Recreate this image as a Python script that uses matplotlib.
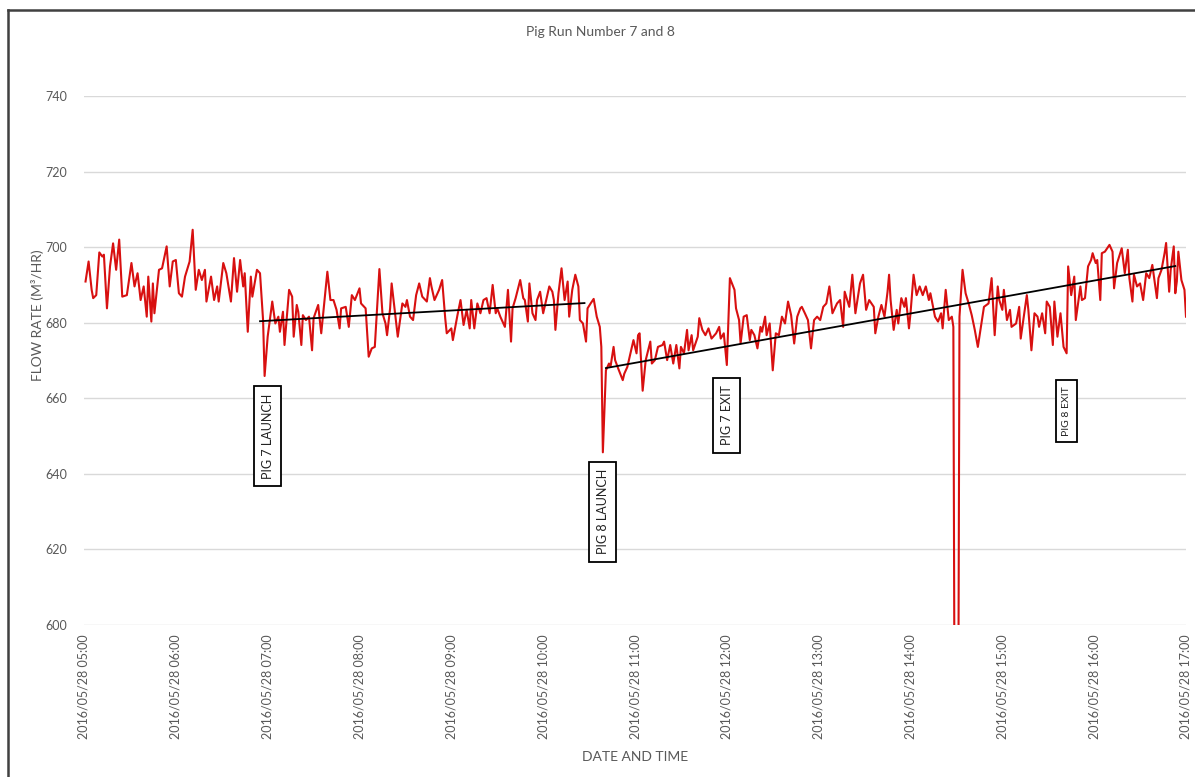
import numpy as np
import pandas as pd
import matplotlib
matplotlib.use("Agg")
import matplotlib.pyplot as plt
import matplotlib.dates as mdates
from matplotlib.lines import Line2D

plt.rcParams['font.family'] = ['Lato', 'DejaVu Sans']

# flow log, minutes after 05:00 on 2016/05/28
start = pd.Timestamp("2016-05-28 05:00")
elapsed_min = [
    1, 3, 5, 6, 8, 10, 12, 13, 15, 17, 19, 21, 23, 25, 28, 31, 33, 35, 37, 39,
    41, 42, 44, 45, 46, 49, 51, 54, 56, 58, 60, 62, 64, 66, 69, 71, 73, 75, 77, 79,
    80, 83, 85, 87, 88, 91, 93, 96, 98, 100, 102, 104, 105, 107, 109, 110, 113, 115, 117, 118,
    120, 123, 125, 127, 128, 130, 131, 134, 136, 137, 139, 140, 142, 143, 145, 147, 149, 150, 153, 155,
    159, 161, 163, 165, 167, 168, 171, 173, 175, 177, 180, 181, 184, 186, 188, 190, 193, 195, 197, 198,
    200, 201, 203, 205, 208, 210, 211, 213, 215, 217, 219, 221, 224, 226, 227, 229, 232, 234, 236, 237,
    240, 241, 244, 246, 248, 250, 252, 253, 255, 257, 259, 261, 263, 265, 267, 269, 270, 272, 275, 276,
    277, 279, 280, 282, 285, 287, 288, 290, 291, 293, 295, 296, 298, 300, 302, 304, 306, 307, 308, 310,
    312, 314, 316, 317, 319, 321, 323, 324, 326, 328, 329, 331, 333, 335, 337, 338, 339, 341, 343, 344,
    346, 347, 349, 352, 353, 355, 357, 359, 361, 362, 363, 365, 367, 370, 371, 373, 375, 378, 379, 381,
    383, 385, 387, 389, 390, 392, 394, 395, 397, 398, 401, 402, 404, 406, 408, 410, 413, 415, 416, 418,
    420, 422, 425, 426, 428, 429, 431, 433, 435, 436, 438, 440, 442, 443, 445, 446, 448, 450, 452, 454,
    456, 458, 460, 462, 464, 466, 468, 469, 471, 473, 475, 477, 479, 481, 483, 485, 487, 489, 492, 494,
    496, 497, 500, 502, 504, 507, 509, 511, 513, 516, 517, 519, 521, 523, 525, 526, 527, 529, 531, 532,
    534, 536, 537, 539, 540, 542, 544, 546, 548, 550, 552, 553, 556, 558, 560, 561, 563, 565, 567, 568,
    569, 570, 571, 572, 574, 576, 578, 580, 582, 584, 586, 588, 591, 593, 595, 597, 598, 600, 601, 603,
    605, 606, 609, 611, 612, 614, 616, 617, 619, 621, 623, 624, 626, 628, 629, 631, 633, 634, 636, 638,
    640, 642, 643, 645, 647, 648, 651, 652, 654, 656, 658, 659, 661, 662, 664, 665, 667, 670, 672, 673,
    675, 677, 678, 680, 682, 683, 685, 686, 688, 690, 692, 694, 696, 698, 701, 702, 704, 706, 707, 709,
    710, 712, 713, 714, 715, 717, 719, 720,
]
flow_m3h = [
    690.9, 696.2, 688.7, 686.5, 687.3, 698.6, 697.5, 698.0, 683.8, 694.9, 701.0, 694.0, 702.0, 686.9, 687.3, 695.8, 689.6, 693.1, 686.0, 689.6,
    681.6, 692.2, 680.3, 690.4, 682.5, 694.0, 694.4, 700.2, 689.6, 696.2, 696.6, 687.8, 686.9, 692.2, 696.2, 704.6, 688.7, 694.0, 691.3, 694.0,
    685.6, 692.2, 686.0, 689.6, 685.6, 695.8, 693.1, 685.6, 697.1, 688.2, 696.6, 689.6, 693.1, 677.6, 692.2, 686.9, 694.0, 693.1, 680.7, 665.9,
    676.3, 685.6, 679.8, 681.6, 677.6, 682.9, 674.1, 688.7, 686.9, 676.3, 684.7, 682.9, 674.1, 682.0, 680.7, 681.6, 672.7, 681.2, 684.7, 677.2,
    693.5, 686.0, 686.0, 683.4, 678.5, 683.8, 684.2, 678.9, 687.3, 686.0, 689.1, 685.1, 683.8, 671.0, 673.2, 673.6, 694.2, 682.5, 679.8, 676.7,
    683.8, 690.4, 683.4, 676.3, 685.1, 684.2, 686.0, 681.6, 680.7, 687.3, 690.4, 686.9, 685.6, 691.8, 689.6, 686.0, 688.7, 691.3, 681.2, 677.2,
    678.5, 675.4, 682.0, 686.0, 679.4, 683.4, 678.5, 686.0, 678.5, 685.1, 682.5, 686.0, 686.5, 682.5, 690.0, 682.5, 683.8, 681.6, 678.9, 683.8,
    688.7, 675.0, 683.8, 686.5, 691.3, 686.5, 686.0, 680.3, 690.4, 682.5, 680.7, 686.0, 688.2, 682.5, 686.0, 689.6, 688.2, 686.0, 678.1, 687.8,
    694.4, 686.0, 690.9, 681.6, 688.7, 692.7, 689.6, 680.7, 679.8, 675.0, 683.8, 685.1, 686.3, 681.6, 678.9, 673.6, 645.7, 667.4, 669.2, 668.3,
    673.6, 670.1, 667.9, 664.8, 666.5, 668.3, 671.9, 675.4, 671.9, 676.7, 677.2, 662.0, 670.1, 675.0, 669.2, 670.1, 673.6, 674.1, 675.0, 670.1,
    674.1, 669.2, 674.1, 667.9, 673.6, 671.9, 678.1, 672.7, 676.7, 672.7, 676.3, 681.2, 678.1, 676.7, 678.5, 675.8, 677.2, 678.9, 675.8, 677.2,
    668.8, 691.8, 688.7, 683.8, 680.7, 674.5, 681.6, 682.0, 675.4, 678.1, 676.7, 673.2, 678.9, 677.6, 681.6, 676.7, 679.8, 667.4, 677.2, 676.7,
    681.6, 679.8, 685.6, 682.0, 674.5, 681.6, 683.8, 684.2, 682.5, 680.7, 673.2, 680.7, 681.6, 680.7, 684.2, 685.1, 689.6, 682.5, 685.1, 686.0,
    678.9, 688.2, 684.2, 692.7, 682.5, 690.4, 692.7, 683.4, 686.0, 684.2, 677.2, 681.6, 684.7, 681.6, 688.2, 692.7, 686.0, 678.1, 683.4, 679.8,
    686.5, 684.2, 686.5, 678.5, 682.5, 692.7, 687.3, 689.6, 687.3, 689.6, 686.0, 687.8, 681.6, 680.3, 682.5, 678.5, 688.7, 680.7, 681.6, 678.9,
    545.0, 540.0, 545.0, 681.6, 694.0, 687.8, 685.1, 682.0, 678.1, 673.6, 678.9, 684.2, 685.1, 691.8, 676.7, 689.6, 686.0, 683.4, 688.7, 680.7,
    683.4, 678.9, 679.8, 684.2, 675.8, 681.6, 687.3, 683.4, 672.7, 682.5, 681.6, 678.9, 682.5, 677.2, 685.6, 684.2, 674.1, 685.6, 676.3, 682.5,
    673.6, 671.9, 694.9, 687.3, 692.2, 680.7, 689.6, 686.0, 686.5, 694.9, 696.6, 698.4, 695.8, 696.6, 686.0, 698.4, 698.8, 700.6, 698.8, 689.1,
    695.8, 698.4, 699.7, 693.1, 699.3, 691.8, 685.6, 692.7, 689.6, 690.4, 686.0, 693.1, 691.8, 695.3, 686.5, 691.8, 694.0, 698.4, 701.1, 688.2,
    694.0, 700.2, 687.8, 690.9, 698.8, 691.3, 688.7, 681.6,
]

# hand-drawn trend lines for each pig run: start/end minute and flow
trend_start_min = [115, 341]
trend_end_min = [327, 713]
trend_start_flow = [680.4, 668.0]
trend_end_flow = [685.2, 695.0]

# event markers: label, minutes after 05:00, flow level of the label box
event_labels = ["PIG 7 LAUNCH", "PIG 8 LAUNCH", "PIG 7 EXIT", "PIG 8 EXIT"]
event_min = [120, 339, 420, 642]
event_level = [650.0, 630.0, 655.5, 656.6]

y_ticks = [600, 620, 640, 660, 680, 700, 720, 740]

t = start + pd.to_timedelta(elapsed_min, unit="min")

fig = plt.figure(figsize=(11.95, 7.77), dpi=100)
ax = fig.add_axes([84 / 1195, 1 - 625 / 777, 1102 / 1195, 529 / 777])

grey = "#595959"
ax.plot(t, flow_m3h, color="#d81010", lw=1.5, zorder=3)

for m0, m1, f0, f1 in zip(trend_start_min, trend_end_min, trend_start_flow, trend_end_flow):
    ax.plot(start + pd.to_timedelta([m0, m1], unit="min"), [f0, f1],
            color="black", lw=1.3, zorder=4)

# the last label box was typed smaller than the others
box_size = [9, 9, 9, 7.5]
for lab, m, lev, fs in zip(event_labels, event_min, event_level, box_size):
    ax.text(start + pd.Timedelta(minutes=m), lev, lab, rotation=90,
            ha="center", va="center", fontsize=fs, color="#222222", zorder=5,
            bbox=dict(boxstyle="square,pad=0.6", fc="white", ec="black", lw=1.3))

ax.set_ylim(600, 740)
ax.set_yticks(y_ticks)
ax.set_xlim(start, start + pd.Timedelta(hours=12))
ax.xaxis.set_major_locator(mdates.HourLocator())
ax.xaxis.set_major_formatter(mdates.DateFormatter("%Y/%m/%d %H:%M"))
ax.tick_params(axis="x", length=0, pad=7, labelsize=9, labelcolor=grey, labelrotation=90)
ax.tick_params(axis="y", length=0, pad=12, labelsize=9, labelcolor=grey)
ax.grid(axis="y", color="#d9d9d9", lw=1)
ax.set_axisbelow(True)
for s in ax.spines.values():
    s.set_visible(False)

fig.text(600 / 1195, 1 - 32 / 777, "Pig Run Number 7 and 8", color=grey, fontsize=10,
         ha="center", va="center")
ax.set_ylabel("FLOW RATE (M³/HR)", color=grey, fontsize=10)
ax.yaxis.set_label_coords(-0.036, 0.586)
fig.text(635 / 1195, 1 - 757 / 777, "DATE AND TIME", color=grey, fontsize=10,
         ha="center", va="center")

# outer frame of the chart area
fig.add_artist(Line2D([8 / 1195, 8 / 1195], [0, 1 - 10 / 777], transform=fig.transFigure,
                      color="#404040", lw=1.8))
fig.add_artist(Line2D([8 / 1195, 1], [1 - 10 / 777, 1 - 10 / 777], transform=fig.transFigure,
                      color="#404040", lw=1.8))

fig.savefig("out.png", dpi=100)
